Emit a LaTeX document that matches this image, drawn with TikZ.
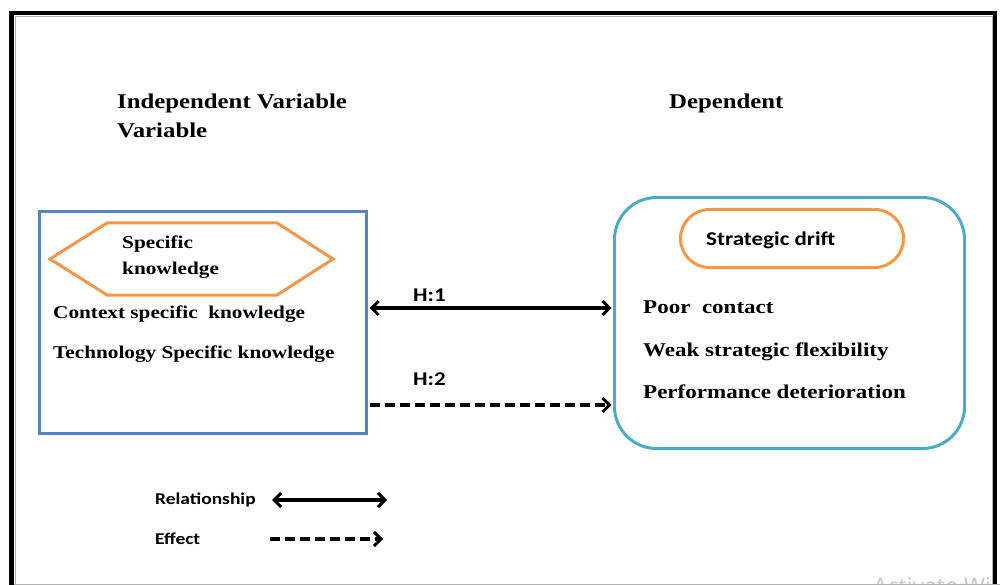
\documentclass[tikz,border=0pt]{standalone}
\usepackage{fontspec}
\usetikzlibrary{arrows.meta,shapes.geometric}
\newfontfamily\serb{Liberation Serif}[FakeStretch=1.18]
\newfontfamily\sanb{Carlito}[FakeStretch=1.18]
\definecolor{boxblue}{HTML}{5584C2}
\definecolor{boxteal}{HTML}{4BACC6}
\definecolor{accent}{HTML}{F79646}
\tikzset{
  headtext/.style={anchor=base west, inner sep=0, font=\serb\bfseries\fontsize{21}{24}\selectfont},
  ltext/.style={anchor=base west, inner sep=0, font=\serb\bfseries\fontsize{18}{22}\selectfont},
  rtext/.style={anchor=base west, inner sep=0, font=\serb\bfseries\fontsize{19.5}{23}\selectfont},
  stext/.style={anchor=base west, inner sep=0, font=\sanb\bfseries\fontsize{19.5}{23}\selectfont},
  legtext/.style={anchor=base west, inner sep=0, font=\sanb\bfseries\fontsize{16.5}{19}\selectfont},
  barb/.tip={Straight Barb[length=7pt,width=14pt,line width=3pt]},
  rel/.style={line width=3.2pt, barb-barb},
  eff/.style={line width=3.2pt, dash pattern=on 10pt off 5pt, -barb},
}
\begin{document}
\begin{tikzpicture}[x=1pt,y=-1pt]
\useasboundingbox (0,0) rectangle (1000,585);
\fill[white] (0,0) rectangle (1000,585);

% screen watermark, partly hidden behind the frame
\begin{scope}
\clip (0,0) rectangle (993,585);
\node[anchor=base west, inner sep=0, text=gray!45, font=\fontspec{Open Sans}\fontsize{23}{27}\selectfont] (wm) at (873,594) {Activate Windows};
\end{scope}

% page frame with its faint inner shadow line
\begin{scope}
\clip (0,0) rectangle (1000,585);
\draw[gray!60, line width=1pt] (15.5,600) -- (15.5,16.5) -- (992.5,16.5) -- (992.5,600);
\draw[line width=4.5pt] (11.5,600) -- (11.5,13) -- (995,13) -- (995,600);
\draw[gray!60, line width=1pt] (14,584) -- (1000,584);
\end{scope}

% column headings
\node[headtext] (indep) at (117,109) {Independent Variable};
\node[headtext] (indep2) at (117,138) {Variable};
\node[headtext] (dep) at (669,109) {Dependent};

% independent variable block
\node[draw=boxblue, line width=3pt, inner sep=0, minimum width=327pt, minimum height=222pt, anchor=north west] (ivbox) at (38,210) {};
\draw[accent, line width=3pt, line join=miter]
  (50,259) -- (107,223) -- (277,223) -- (333,259) -- (277,295) -- (107,295) -- cycle;
\node[ltext] (sk1) at (122,248) {Specific};
\node[ltext] (sk2) at (122,274) {knowledge};
\node[ltext] (ctx) at (53,318) {Context specific \ knowledge};
\node[ltext] (tec) at (53,358) {Technology Specific knowledge};

% dependent variable block
\node[draw=boxteal, line width=3pt, rounded corners=42pt, minimum width=350pt, minimum height=251pt, anchor=north west, inner sep=0] (dvbox) at (613,196) {};
\node[draw=accent, line width=3pt, rounded corners=29pt, minimum width=223pt, minimum height=58pt, anchor=north west, inner sep=0] (sd) at (679,208) {};
\node[stext] (sdt) at (706,245) {Strategic drift};
\node[rtext] (pc) at (643,313) {Poor \ contact};
\node[rtext] (wsf) at (643,356) {Weak strategic flexibility};
\node[rtext] (pd) at (643,398) {Performance deterioration};

% hypotheses
\coordinate (h1l) at (ivbox.east |- 0,308);
\coordinate (h1r) at (dvbox.west |- 0,308);
\coordinate (h2l) at (ivbox.east |- 0,405);
\coordinate (h2r) at (dvbox.west |- 0,405);
\draw[rel, shorten <=1.5pt, shorten >=1.5pt] (h1l) -- (h1r);
\draw[eff, shorten <=1.5pt, shorten >=1.5pt] (h2l) -- (h2r);
\node[stext] (h1) at (413,301) {H:1};
\node[stext] (h2) at (413,385) {H:2};

% legend
\node[legtext] (lrel) at (155,504) {Relationship};
\node[legtext] (leff) at (155,544) {Effect};
\coordinate (lr1) at (272,500);
\coordinate (lr2) at (387,500);
\coordinate (le1) at (270,539);
\coordinate (le2) at (383,539);
\draw[rel] (lr1) -- (lr2);
\draw[eff] (le1) -- (le2);
\end{tikzpicture}
\end{document}
